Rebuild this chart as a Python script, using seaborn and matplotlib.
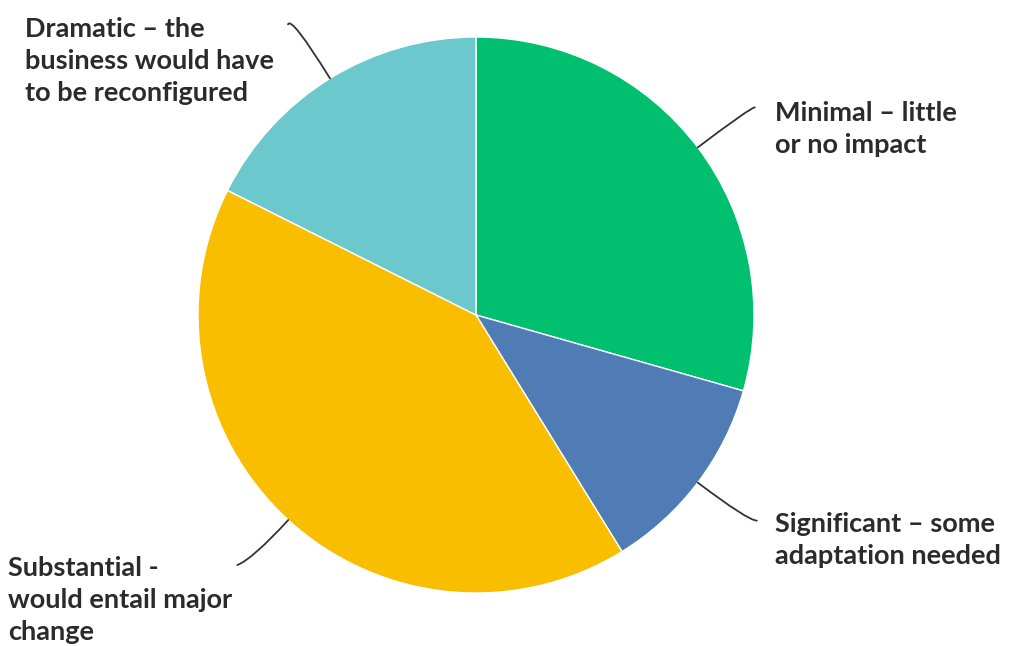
import matplotlib.pyplot as plt
import numpy as np
import seaborn as sns

# share of responses per impact level
labels = ["Minimal – little\nor no impact",
          "Significant – some\nadaptation needed",
          "Substantial -\nwould entail major\nchange",
          "Dramatic – the\nbusiness would have\nto be reconfigured"]
values = [29.4, 11.8, 41.2, 17.6]
colors = ["#00BF6F", "#507CB6", "#F9BE00", "#6BC8CD"]

sns.set_theme(style="white")
plt.rcParams['font.family'] = ['Lato', 'DejaVu Sans']

W, H = 1010, 646
fig = plt.figure(figsize=(W / 100, H / 100), dpi=100)
ax = fig.add_axes([0, 0, 1, 1])

cx, cy, r = 476, H - 315, 278
wedges, _ = ax.pie(values, colors=colors, startangle=90, counterclock=False,
                   center=(cx, cy), radius=r, frame=True,
                   wedgeprops=dict(edgecolor="white", linewidth=1))
ax.set_xlim(0, W)
ax.set_ylim(0, H)
ax.set_aspect("equal")
ax.axis("off")

# leader end offsets (px) and label anchors (left, last baseline) in screen coords
ends = [(57, 40), (59, -38), (-51, -45), (-42, 54)]
anchors = [(775, 153), (775, 564), (8, 640), (25, 101)]
end_angle = [0, 0, 20, 70]

for w, lab, (dx, dy), (tx, ty), ea in zip(wedges, labels, ends, anchors, end_angle):
    mid = np.deg2rad((w.theta1 + w.theta2) / 2)
    px, py = cx + r * np.cos(mid), cy + r * np.sin(mid)
    ax.annotate("", xy=(px, py), xytext=(px + dx, py + dy),
                arrowprops=dict(arrowstyle="-", color="#333333", lw=1.3,
                                shrinkA=0, shrinkB=0,
                                connectionstyle=f"angle3,angleA={ea},angleB={np.rad2deg(mid):.1f}"))
    ax.text(tx, H - ty, lab, ha="left", va="baseline", fontsize=19.5,
            fontweight="bold", color="#2b2b2b", linespacing=1.41)

fig.savefig("out.png", dpi=100)
